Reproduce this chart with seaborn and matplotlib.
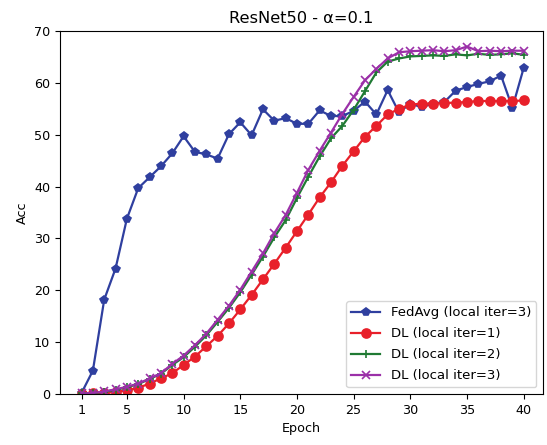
import matplotlib
matplotlib.use("Agg")
import matplotlib.pyplot as plt
import seaborn as sns
import pandas as pd

epochs = list(range(1, 41))
fedavg = [0.2, 4.5, 18.2, 24.2, 33.8, 39.7, 41.8, 43.9, 46.4, 49.7, 46.7, 46.2, 45.4, 50.1, 52.4, 49.9,
          54.9, 52.7, 53.2, 52.1, 52.1, 54.7, 53.6, 53.6, 54.6, 56.4, 53.9, 58.6, 54.3, 56.0, 55.3, 56.0,
          56.3, 58.5, 59.2, 59.8, 60.3, 61.4, 55.2, 62.9]
dl1 = [0.0, 0.1, 0.2, 0.4, 0.7, 1.2, 2.0, 3.0, 4.0, 5.6, 7.2, 9.2, 11.2, 13.6, 16.3, 19.1, 22.1, 25.1,
       28.2, 31.4, 34.6, 37.9, 40.8, 44.0, 46.8, 49.6, 51.7, 53.9, 55.0, 55.8, 56.0, 56.0, 56.1, 56.2,
       56.3, 56.5, 56.5, 56.5, 56.5, 56.6]
dl2 = [0.1, 0.2, 0.4, 0.8, 1.3, 1.9, 2.9, 3.9, 5.6, 7.1, 9.1, 11.3, 13.9, 16.6, 19.6, 23.0, 26.5, 30.2,
       33.5, 37.8, 41.9, 45.8, 49.3, 51.7, 54.8, 58.4, 62.0, 64.1, 64.7, 65.1, 65.2, 65.3, 65.2, 65.5,
       65.3, 65.6, 65.4, 65.5, 65.7, 65.4]
dl3 = [0.1, 0.2, 0.5, 0.9, 1.4, 2.0, 3.0, 4.0, 5.8, 7.4, 9.4, 11.6, 14.3, 17.0, 20.1, 23.6, 27.1, 31.0,
       34.5, 38.8, 43.2, 46.9, 50.4, 54.0, 57.3, 60.5, 62.7, 64.7, 65.9, 66.1, 66.2, 66.3, 66.1, 66.3,
       67.0, 66.1, 66.2, 66.1, 66.2, 66.2]
labels = ["FedAvg (local iter=3)", "DL (local iter=1)", "DL (local iter=2)", "DL (local iter=3)"]
xticks = [1, 5, 10, 15, 20, 25, 30, 35, 40]

series = [fedavg, dl1, dl2, dl3]
colors = ["#2f3f9f", "#e8202a", "#1f7a33", "#9b30a8"]
markers = ["p", "o", "+", "x"]
msizes = [5.5, 6.5, 6, 6]

fig = plt.figure(figsize=(5.47, 4.45), dpi=100)
ax = fig.add_axes([60 / 547, (445 - 394) / 445, 483 / 547, 363 / 445])

for vals, lab, c, m, ms in zip(series, labels, colors, markers, msizes):
    df = pd.DataFrame({"Epoch": epochs, "Acc": vals})
    sns.lineplot(data=df, x="Epoch", y="Acc", ax=ax, color=c, marker=m, markersize=ms,
                 markeredgecolor=c, markeredgewidth=1.2, linewidth=1.6, label=lab)

ax.set_xlim(-0.9, 41.7)
ax.set_ylim(0, 70)
ax.set_xticks(xticks)
ax.set_yticks(range(0, 71, 10))
ax.tick_params(labelsize=9.2)
ax.set_xlabel("Epoch", fontsize=9.2)
ax.set_ylabel("Acc", fontsize=9.2)
ax.set_title("ResNet50 - α=0.1", fontsize=11.7)
ax.legend(loc="lower right", fontsize=9.5, labelspacing=0.6, handlelength=2.2)
fig.savefig("out.png", dpi=100)
